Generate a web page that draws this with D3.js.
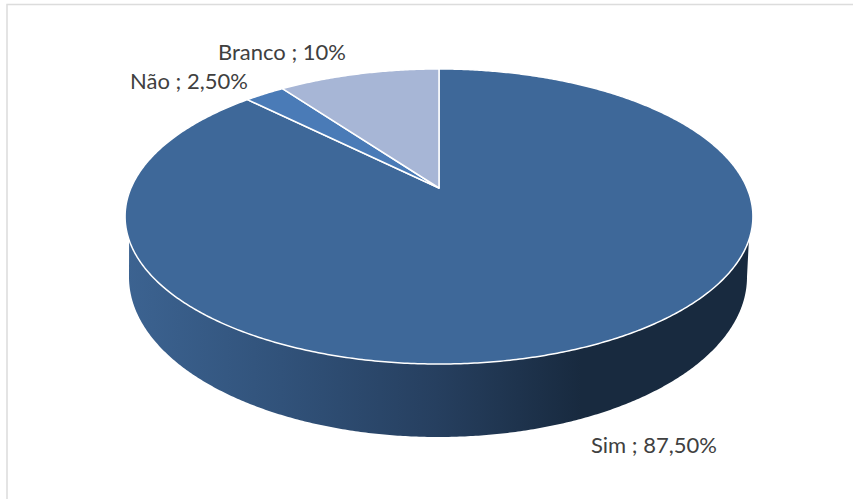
<!DOCTYPE html>
<html>
<head>
<meta charset="utf-8">
<script src="https://cdn.jsdelivr.net/npm/d3@7"></script>
<style>
  html, body { margin: 0; padding: 0; background: #fff; }
  svg { display: block; }
  text { font-family: Lato, "Open Sans", sans-serif; font-size: 22px; fill: #404040; }
</style>
</head>
<body>
<div id="chart"></div>
<script>
// Datos
const categories = ["Sim", "Não", "Branco"];
const values = [87.5, 2.5, 10];
const labels = ["Sim ; 87,50%", "Não ; 2,50%", "Branco ; 10%"];
const sliceColors = ["#3e6899", "#4a7bb7", "#a7b6d6"];

const WIDTH = 853;
const HEIGHT = 499;

const svg = d3.select("#chart")
  .append("svg")
  .attr("width", WIDTH)
  .attr("height", HEIGHT);

// Marco del gráfico
svg.append("rect")
  .attr("x", 7)
  .attr("y", 4.5)
  .attr("width", WIDTH)
  .attr("height", HEIGHT)
  .attr("fill", "none")
  .attr("stroke", "#dcdcdc")
  .attr("stroke-width", 1.5);

const color = d3.scaleOrdinal().domain(categories).range(sliceColors);

const pie = d3.pie().sort(null).value(d => d.value);
const slices = pie(categories.map((c, i) => ({ category: c, value: values[i], label: labels[i] })));

// Proyección del disco: el centro del pie cae encima del centro de la elipse
const CX = 439, CY = 188, RX = 308, RY = -105.7, K = 0.1932;
function project(angle) {
  const u = Math.sin(angle);
  const v = Math.cos(angle);
  const d = 1 + K * v;
  return [CX + RX * u / d, (CY + RY * v) / d];
}

// Borde inferior del lado
function projectBottom(angle) {
  return [438 + 309 * Math.sin(angle), 277 - 160 * Math.cos(angle)];
}

const line = d3.line();
const step = Math.PI / 360;

function arcPoints(a0, a1, fn) {
  const n = Math.max(2, Math.ceil(Math.abs(a1 - a0) / step));
  return d3.range(n + 1).map(i => fn(a0 + (a1 - a0) * i / n));
}

// Lado del disco
const defs = svg.append("defs");
const grad = defs.append("linearGradient")
  .attr("id", "sideGrad")
  .attr("gradientUnits", "userSpaceOnUse")
  .attr("x1", 125).attr("x2", 750)
  .attr("y1", 0).attr("y2", 0);
[[0, "#3c6391"], [0.25, "#31527a"], [0.5, "#263f5f"], [0.73, "#182a3f"], [1, "#182a3f"]]
  .forEach(s => grad.append("stop").attr("offset", s[0]).attr("stop-color", s[1]));

const topEdge = arcPoints(Math.PI * 110 / 180, Math.PI * 250 / 180, project);
const bottomEdge = arcPoints(Math.PI * 270 / 180, Math.PI * 90 / 180, projectBottom);

svg.append("path")
  .attr("d", line(topEdge.concat(bottomEdge)) + "Z")
  .attr("fill", "url(#sideGrad)");

// Cara superior
svg.append("g")
  .selectAll("path")
  .data(slices)
  .join("path")
  .attr("d", d => line([[CX, CY]].concat(arcPoints(d.startAngle, d.endAngle, project))) + "Z")
  .attr("fill", d => color(d.data.category))
  .attr("stroke", "#fff")
  .attr("stroke-width", 1.5)
  .attr("stroke-linejoin", "round");

// Etiquetas
const labelPos = { "Sim": [591, 453], "Não": [130, 89], "Branco": [218, 60] };

svg.append("g")
  .selectAll("text")
  .data(slices)
  .join("text")
  .attr("x", d => labelPos[d.data.category][0])
  .attr("y", d => labelPos[d.data.category][1])
  .text(d => d.data.label);
</script>
</body>
</html>
